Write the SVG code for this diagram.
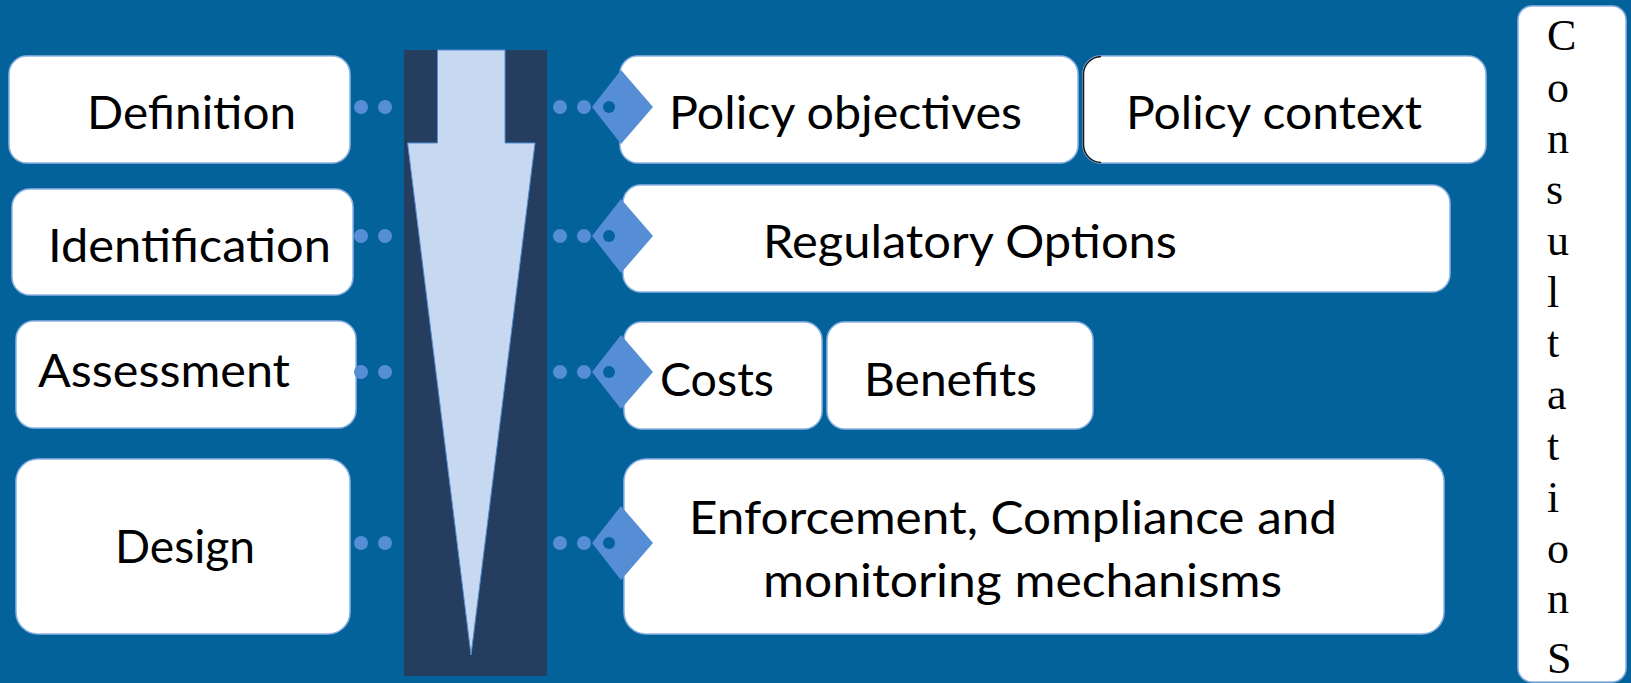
<svg xmlns="http://www.w3.org/2000/svg" width="1631" height="683" viewBox="0 0 1631 683">
<defs>
<style>
.box{fill:#ffffff;stroke:#8eb4e3;stroke-width:1.5}
.lbl{font-family:Lato,"Open Sans","Liberation Sans",sans-serif;font-size:46px;fill:#000000}
.ser{font-family:"Liberation Serif","Times New Roman",serif;font-size:44px;fill:#000000}
.dot{fill:#558ed5}
.hole{fill:#04629b}
</style>
<g id="conn">
<circle class="dot" cx="560" cy="0" r="7"/>
<circle class="dot" cx="584" cy="0" r="7"/>
<polygon class="dot" points="592,0 621,-37 653,0 621,37"/>
<circle class="hole" cx="609" cy="0" r="6"/>
</g>
<g id="lconn">
<circle class="dot" cx="361" cy="0" r="7"/>
<circle class="dot" cx="385" cy="0" r="7"/>
</g>
</defs>
<rect x="0" y="0" width="1631" height="683" fill="#04629b"/>

<g id="flow-column">
<rect x="404" y="50" width="143" height="626" fill="#253d5e"/>
<polygon points="437.5,50 505,50 505,143 535,143 471,655 407.6,143 437.5,143" fill="#c6d9f1" stroke="#558ed5" stroke-width="1"/>
</g>

<g id="node-definition">
<rect class="box" x="9" y="56" width="341" height="107" rx="18"/>
<text class="lbl" x="87" y="129" textLength="209" lengthAdjust="spacingAndGlyphs">Definition</text>
</g>
<g id="node-identification">
<rect class="box" x="12" y="189" width="341" height="106" rx="18"/>
<text class="lbl" x="48" y="262" textLength="283" lengthAdjust="spacingAndGlyphs">Identification</text>
</g>
<g id="node-assessment">
<rect class="box" x="16" y="321" width="340" height="107" rx="18"/>
<text class="lbl" x="38" y="387" textLength="252" lengthAdjust="spacingAndGlyphs">Assessment</text>
</g>
<g id="node-design">
<rect class="box" x="16" y="459" width="334" height="175" rx="22"/>
<text class="lbl" x="115" y="563" textLength="140" lengthAdjust="spacingAndGlyphs">Design</text>
</g>

<g id="node-policy-objectives">
<rect class="box" x="620" y="56" width="458" height="107" rx="18"/>
<text class="lbl" x="669" y="129" textLength="353" lengthAdjust="spacingAndGlyphs">Policy objectives</text>
</g>
<g id="node-policy-context">
<rect class="box" x="1083" y="56" width="403" height="107" rx="18"/>
<path d="M1101,56.5 A18,18 0 0 0 1083.5,74 L1083.5,145 A18,18 0 0 0 1101,162.5" fill="none" stroke="#1a1a1a" stroke-width="1.5"/>
<text class="lbl" x="1126" y="129" textLength="296" lengthAdjust="spacingAndGlyphs">Policy context</text>
</g>
<g id="node-regulatory-options">
<rect class="box" x="623" y="185" width="827" height="107" rx="18"/>
<text class="lbl" x="763" y="258" textLength="414" lengthAdjust="spacingAndGlyphs">Regulatory Options</text>
</g>
<g id="node-costs">
<rect class="box" x="624" y="322" width="198" height="107" rx="18"/>
<text class="lbl" x="660" y="396" textLength="114" lengthAdjust="spacingAndGlyphs">Costs</text>
</g>
<g id="node-benefits">
<rect class="box" x="827" y="322" width="266" height="107" rx="18"/>
<text class="lbl" x="864" y="396" textLength="173" lengthAdjust="spacingAndGlyphs">Benefits</text>
</g>
<g id="node-enforcement">
<rect class="box" x="624" y="459" width="820" height="175" rx="22"/>
<text class="lbl" x="689" y="534" textLength="648" lengthAdjust="spacingAndGlyphs">Enforcement, Compliance and</text>
<text class="lbl" x="763" y="597" textLength="519" lengthAdjust="spacingAndGlyphs">monitoring mechanisms</text>
</g>

<g id="node-consultations">
<rect class="box" x="1518" y="6" width="108" height="676" rx="14"/>
<text class="ser" x="1547" y="50">C</text>
<text class="ser" x="1547" y="102">o</text>
<text class="ser" x="1547" y="153">n</text>
<text class="ser" x="1546" y="204">s</text>
<text class="ser" x="1547" y="255">u</text>
<text class="ser" x="1547" y="307">l</text>
<text class="ser" x="1547" y="357">t</text>
<text class="ser" x="1547" y="409">a</text>
<text class="ser" x="1547" y="460">t</text>
<text class="ser" x="1547" y="512">i</text>
<text class="ser" x="1547" y="563">o</text>
<text class="ser" x="1547" y="613">n</text>
<text class="ser" x="1547" y="673">S</text>
</g>

<g id="connectors">
<use href="#lconn" y="107"/>
<use href="#lconn" y="236"/>
<use href="#lconn" y="372"/>
<use href="#lconn" y="543"/>
<use href="#conn" y="107"/>
<use href="#conn" y="236"/>
<use href="#conn" y="372"/>
<use href="#conn" y="543"/>
</g>
</svg>
